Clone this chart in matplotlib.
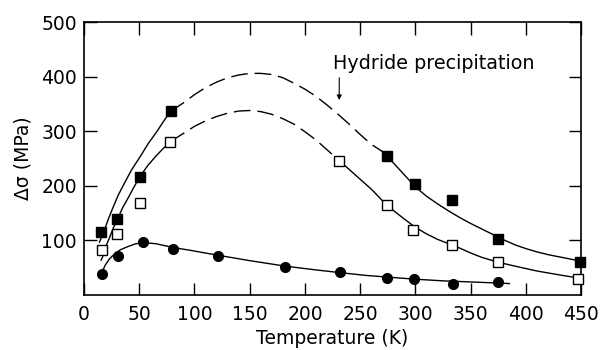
import matplotlib
matplotlib.use("Agg")
import matplotlib.pyplot as plt

# measured points
t_filled = [15, 30, 51, 78.5, 274, 300, 333, 375, 449]
s_filled = [115, 140, 217, 337, 255, 203, 174, 103, 61]

t_open = [16, 30, 51, 78, 231, 274, 298, 333, 375, 447]
s_open = [82, 112, 169, 281, 246, 165, 119, 92, 60, 30]

t_circ = [16.6, 30.5, 53.7, 81, 121, 182, 232, 274, 299, 334, 375]
s_circ = [38, 72, 98, 84, 72, 52, 42, 32, 30, 20, 23]

# fitted curves
t_fill_lo = [14, 17.5, 22, 26.6, 31, 35.6, 43, 50.7, 58, 65.8, 72, 78]
s_fill_lo = [97, 113, 139, 162, 183, 201, 229, 253, 277, 299, 318, 336]
t_fill_dash = [78, 90, 100, 110, 120, 130, 140, 150, 160, 170, 180, 190,
               200, 210, 220, 230, 240, 250, 260, 270]
s_fill_dash = [336, 352, 367, 380, 390, 398, 403, 406, 406, 404, 398, 388,
               377, 364, 348, 331, 313, 294, 276, 263]
t_fill_hi = [270, 280, 290, 300, 310, 320, 330, 340, 350, 360, 370, 380,
             390, 400, 410, 420, 430, 440, 450]
s_fill_hi = [263, 242, 220, 198, 181, 167, 154, 142, 131, 121, 111, 101,
             92, 85, 79, 74, 70, 66, 62]

t_open_lo = [15.5, 16.9, 20, 23.5, 27, 31, 35, 40, 45, 50.7, 58, 65.8, 72, 78]
s_open_lo = [64, 70, 90, 107, 125, 142, 160, 178, 197, 217, 238, 256, 269, 281]
t_open_dash = [78, 90, 100, 110, 120, 130, 140, 150, 160, 170, 180, 190,
               200, 210, 220, 230]
s_open_dash = [281, 296, 309, 319, 327, 333, 337, 338, 336, 331, 323, 313,
               299, 284, 266, 248]
t_open_hi = [230, 240, 250, 260, 270, 280, 290, 300, 310, 320, 330, 340,
             350, 360, 375, 390, 410, 430, 448]
s_open_hi = [248, 230, 212, 194, 173, 155, 139, 124, 112, 102, 94, 86,
             77, 69, 60, 53, 44, 37, 31]

t_circ_fit = [16, 19, 23, 28, 33, 40, 47, 55, 65, 81, 96, 121, 150, 182,
              210, 232, 255, 274, 300, 325, 350, 375, 385]
s_circ_fit = [40, 54, 66, 76, 83, 89, 94, 96, 94, 87, 82, 73, 63, 53,
              46, 41, 36, 33, 29, 26, 24, 22, 21]

xticks = [0, 50, 100, 150, 200, 250, 300, 350, 400, 450]
yticks = [100, 200, 300, 400, 500]

fig = plt.figure(figsize=(6.02, 3.5), dpi=100)
ax = fig.add_axes([0.1395, 0.157, 0.826, 0.78])

lw = 1.0
dash = (0, (12, 5))
ax.plot(t_fill_lo, s_fill_lo, color='black', lw=lw)
ax.plot(t_fill_dash, s_fill_dash, color='black', lw=lw, linestyle=dash)
ax.plot(t_fill_hi, s_fill_hi, color='black', lw=lw)
ax.plot(t_open_lo, s_open_lo, color='black', lw=lw)
ax.plot(t_open_dash, s_open_dash, color='black', lw=lw, linestyle=dash)
ax.plot(t_open_hi, s_open_hi, color='black', lw=lw)
ax.plot(t_circ_fit, s_circ_fit, color='black', lw=lw)

ax.plot(t_filled, s_filled, 's', ms=6.5, mfc='black', mec='black', zorder=5,
        clip_on=False)
ax.plot(t_open, s_open, 's', ms=6.5, mfc='white', mec='black', mew=1.0,
        zorder=5, clip_on=False)
ax.plot(t_circ, s_circ, 'o', ms=7, mfc='black', mec='black', zorder=5)

ax.text(225.5, 424, 'Hydride precipitation', fontsize=13.8, ha='left',
        va='center')
ax.annotate('', xy=(231, 352), xytext=(231, 403),
            arrowprops=dict(arrowstyle='-|>', color='black', lw=0.8,
                            mutation_scale=7))

ax.set_xlim(0, 450)
ax.set_ylim(0, 500)
ax.set_xticks(xticks)
ax.set_yticks(yticks)
ax.tick_params(direction='in', length=9, width=1.0, top=True, right=True,
               labelsize=13.5)
ax.tick_params(axis='x', pad=7)
ax.tick_params(axis='y', pad=5)
for sp in ax.spines.values():
    sp.set_linewidth(1.2)

ax.set_xlabel('Temperature (K)', fontsize=13.5, labelpad=4)
ax.set_ylabel('Δσ (MPa)', fontsize=13.5, labelpad=6)

fig.savefig('out.png', dpi=100)
